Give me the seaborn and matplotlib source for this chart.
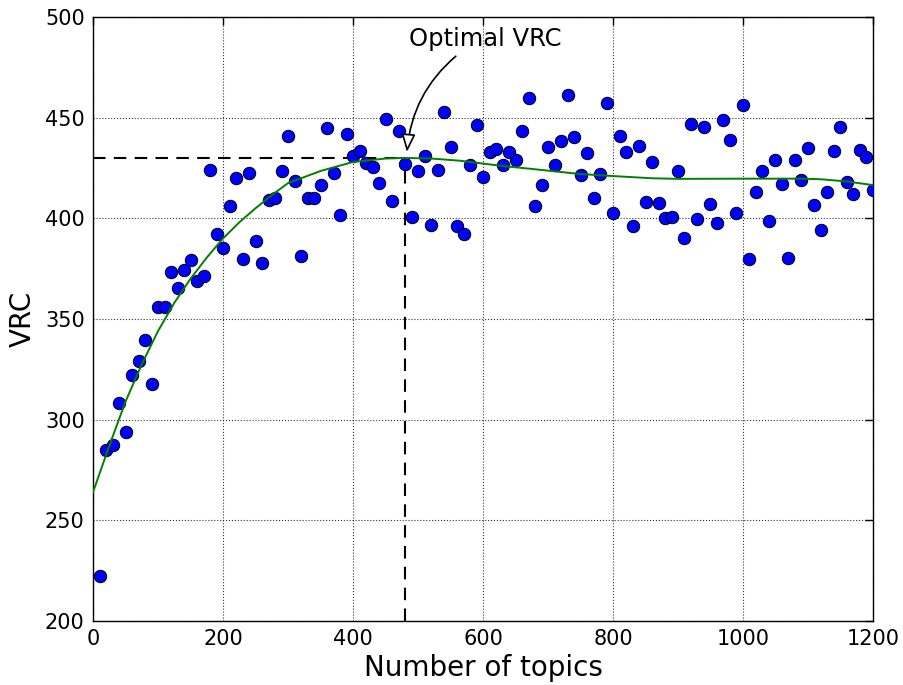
import numpy as np
import pandas as pd
import matplotlib
matplotlib.use("Agg")
import matplotlib.pyplot as plt
import seaborn as sns

# Number of topics evaluated (every 10 from 10 to 1200)
topics = list(range(10, 1201, 10))

# Variance ratio criterion for each topic count
vrc = [
    222.3, 284.9, 287.4, 308.3, 293.9, 322.2, 329.1, 339.6, 317.7, 355.9,
    356.0, 373.3, 365.4, 374.3, 379.3, 368.9, 371.4, 424.0, 392.2, 385.3,
    406.1, 420.0, 379.8, 422.5, 388.7, 377.8, 409.1, 410.1, 423.5, 440.9,
    418.5, 381.3, 410.0, 410.0, 416.6, 444.9, 422.5, 401.7, 441.9, 431.0,
    433.4, 427.5, 425.5, 417.5, 449.3, 408.6, 443.4, 427.0, 400.7, 423.5,
    431.0, 396.7, 424.0, 452.8, 435.4, 396.2, 392.2, 426.5, 446.4, 420.5,
    432.9, 434.4, 426.5, 433.0, 429.0, 443.4, 459.8, 406.1, 416.6, 435.4,
    426.5, 438.4, 461.3, 440.4, 421.5, 432.4, 410.1, 422.0, 457.3, 402.6,
    440.9, 433.0, 396.2, 436.0, 408.1, 428.0, 407.6, 400.2, 400.7, 423.5,
    390.2, 446.9, 399.7, 445.4, 407.1, 397.7, 448.8, 438.9, 402.6, 456.3,
    379.8, 413.1, 423.5, 398.7, 429.0, 417.1, 380.3, 429.0, 419.0, 434.9,
    406.6, 394.2, 413.1, 433.4, 445.4, 418.0, 412.1, 434.0, 430.5, 414.0,
]

# Smoothed VRC trend
trend_topics = [0, 25, 50, 75, 100, 125, 150, 175, 200, 225, 250, 275, 300,
                350, 400, 450, 480, 520, 565, 630, 670, 750, 800, 860, 900,
                1000, 1090, 1120, 1160, 1200]
trend_vrc = [264.0, 287.0, 309.0, 327.5, 344.0, 358.0, 370.0, 380.5, 390.0,
             398.0, 405.0, 411.5, 417.5, 423.5, 428.0, 429.7, 430.0, 429.7,
             428.6, 426.0, 424.7, 422.0, 421.0, 419.9, 419.6, 419.7, 419.7,
             419.4, 418.3, 416.5]

# Chosen optimum on the trend
opt_topics = 480
opt_vrc = 430

x_ticks = [0, 200, 400, 600, 800, 1000, 1200]
y_ticks = [200, 250, 300, 350, 400, 450, 500]

df = pd.DataFrame({"topics": topics, "vrc": vrc})
trend = pd.DataFrame({"topics": trend_topics, "vrc": trend_vrc})

sns.set_theme(style="white")
plt.rcParams["font.family"] = ["DejaVu Sans"]
plt.rcParams["text.color"] = "black"
plt.rcParams["axes.labelcolor"] = "black"
plt.rcParams["xtick.color"] = "black"
plt.rcParams["ytick.color"] = "black"

fig = plt.figure(figsize=(9.04, 6.85), dpi=100)
ax = fig.add_axes([0.1029, 0.0934, 0.8628, 0.8818])

ax.grid(True, linestyle=":", color="black", linewidth=0.8, alpha=0.8)
ax.set_axisbelow(True)

# Optimum guide lines
ax.plot([0, opt_topics], [opt_vrc, opt_vrc], ls="--", color="black", lw=1.5,
        dashes=(6, 4), zorder=2)
ax.plot([opt_topics, opt_topics], [200, opt_vrc], ls="--", color="black", lw=1.5,
        dashes=(6, 4), zorder=2)

sns.scatterplot(data=df, x="topics", y="vrc", ax=ax, color="blue",
                edgecolor="black", linewidth=0.7, s=80, zorder=3, legend=False)
sns.lineplot(data=trend, x="topics", y="vrc", ax=ax, color="green", lw=1.4,
             zorder=4, legend=False, sort=True)

ax.annotate("Optimal VRC", xy=(483, 433), xytext=(603, 489),
            ha="center", va="center", fontsize=17.5,
            arrowprops=dict(arrowstyle="-|>,head_length=0.9,head_width=0.35",
                            fc="white", ec="black", lw=1.2,
                            mutation_scale=12, relpos=(0.35, 0.0),
                            shrinkA=2, shrinkB=0,
                            connectionstyle="arc3,rad=0.22"),
            zorder=5)

ax.set_xlim(0, 1200)
ax.set_ylim(200, 500)
ax.set_xticks(x_ticks)
ax.set_yticks(y_ticks)
ax.set_xlabel("Number of topics", fontsize=20, labelpad=3)
ax.set_ylabel("VRC", fontsize=20, labelpad=6)
ax.tick_params(axis="both", which="major", labelsize=15, direction="in",
               length=6, width=1, top=True, right=True, pad=6)
for sp in ax.spines.values():
    sp.set_color("black")
    sp.set_linewidth(1.0)

fig.savefig("out.png", dpi=100)
